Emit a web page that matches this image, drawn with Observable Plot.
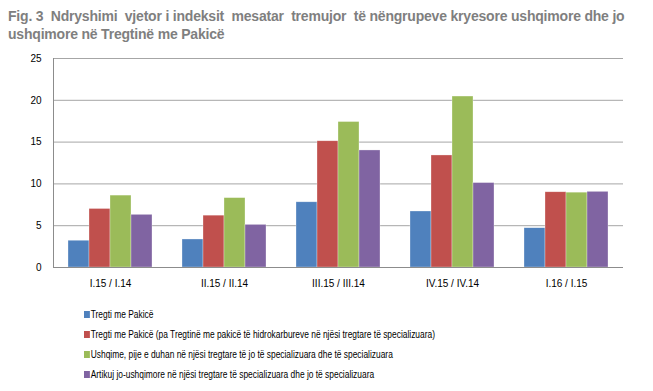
<!DOCTYPE html>
<html><head><meta charset="utf-8">
<script src="https://cdn.jsdelivr.net/npm/d3@7"></script>
<script src="https://cdn.jsdelivr.net/npm/@observablehq/plot@0.6"></script>
<style>
body{margin:0;background:#fff;width:653px;height:391px;overflow:hidden;position:relative;font-family:"Liberation Sans Narrow","Liberation Sans",Arial,sans-serif;}
#title{position:absolute;left:8px;top:7px;width:640px;font-weight:bold;font-size:14px;line-height:18px;color:#7f7f7f;letter-spacing:-0.2px;}
#chart{position:absolute;left:0;top:50px;}
#legend{position:absolute;left:84px;top:308px;font-family:"Liberation Sans",Arial,sans-serif;font-size:10px;color:#000;transform:scaleX(0.84);transform-origin:0 0;}
#legend div{height:20px;line-height:14px;white-space:nowrap;}
#legend span.sw{display:inline-block;width:7px;height:7px;margin-right:1px;vertical-align:0px;}
</style></head><body>
<div id="title">Fig. 3&nbsp; Ndryshimi&nbsp; vjetor i indeksit&nbsp; mesatar&nbsp; tremujor&nbsp; të nëngrupeve kryesore ushqimore dhe jo ushqimore në Tregtinë me Pakicë</div>
<div id="chart"></div>
<div id="legend"></div>
<script>
const categories = ["I.15 / I.14", "II.15 / II.14", "III.15 / III.14", "IV.15 / IV.14", "I.16 / I.15"];
const series = [
  "Tregti me Pakicë",
  "Tregti me Pakicë (pa Tregtinë me pakicë të hidrokarbureve në njësi tregtare të specializuara)",
  "Ushqime, pije e duhan në njësi tregtare të jo të specializuara dhe të specializuara",
  "Artikuj jo-ushqimore në njësi tregtare të specializuara dhe jo të specializuara"
];
const colors = ["#4F81BD", "#C0504D", "#9BBB59", "#8064A2"];
const values = [
  [3.2, 3.35, 7.8, 6.7, 4.7],
  [7.0, 6.2, 15.1, 13.4, 9.0],
  [8.6, 8.3, 17.4, 20.45, 8.95],
  [6.3, 5.1, 14.0, 10.1, 9.05]
];
const yTicks = [0, 5, 10, 15, 20, 25];

const data = [];
series.forEach((s, i) => categories.forEach((c, j) => data.push({cat: c, series: s, value: values[i][j]})));

const plot = Plot.plot({
  width: 653,
  height: 247,
  marginLeft: 52,
  marginRight: 30,
  marginTop: 8,
  marginBottom: 30,
  style: {fontFamily: "'Liberation Sans', Arial, sans-serif", fontSize: "10px", color: "#000"},
  fx: {domain: categories, padding: 0, label: null, tickSize: 0, tickPadding: 12},
  x: {domain: series, axis: null, paddingInner: 0, paddingOuter: 0.71},
  y: {domain: [0, 25], ticks: yTicks, label: null, tickSize: 0, tickPadding: 12},
  color: {domain: series, range: colors},
  marks: [
    Plot.ruleY(yTicks, {stroke: "#a6a6a6", strokeWidth: 1}),
    Plot.barY(data, {fx: "cat", x: "series", y: "value", fill: "series", stroke: "#fff", strokeOpacity: 0.5, strokeWidth: 0.6}),
    Plot.ruleY([0], {stroke: "#8c8c8c"}),
    Plot.frame({anchor: "left", facetAnchor: "left", stroke: "#8c8c8c"})
  ]
});
document.getElementById("chart").appendChild(plot);

const leg = document.getElementById("legend");
series.forEach((s, i) => {
  const d = document.createElement("div");
  const sw = document.createElement("span");
  sw.className = "sw"; sw.style.background = colors[i];
  d.appendChild(sw);
  d.appendChild(document.createTextNode(s));
  leg.appendChild(d);
});
</script>
</body></html>
